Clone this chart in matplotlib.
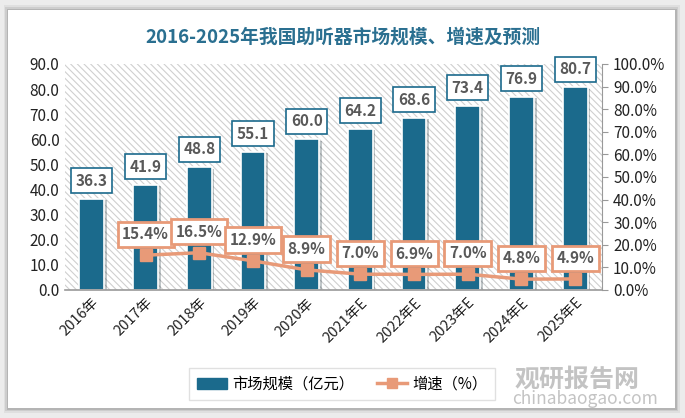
import matplotlib.pyplot as plt
import matplotlib.patheffects as pe
from matplotlib.patches import FancyBboxPatch, Rectangle
import numpy as np

plt.rcParams['font.family'] = ['Noto Sans CJK SC', 'DejaVu Sans']
plt.rcParams['hatch.color'] = '#cfcfcf'
plt.rcParams['hatch.linewidth'] = 0.8

years = ['2016年', '2017年', '2018年', '2019年', '2020年', '2021年E', '2022年E', '2023年E', '2024年E', '2025年E']
market_size = [36.3, 41.9, 48.8, 55.1, 60.0, 64.2, 68.6, 73.4, 76.9, 80.7]
growth = [None, 15.4, 16.5, 12.9, 8.9, 7.0, 6.9, 7.0, 4.8, 4.9]

bar_color = '#1b6a8c'
line_color = '#e89a78'
title_color = '#2a6f90'

fig = plt.figure(figsize=(6.85, 4.18), dpi=100)
fig.patch.set_facecolor('#ececec')

# white card with soft shadow
for i, a in enumerate([0.05, 0.08, 0.12]):
    pad = (3 - i) * 1.5
    fig.patches.append(FancyBboxPatch(((8 - pad) / 685, (10 - pad) / 418),
                                      (667 + 2 * pad) / 685, (398 + 2 * pad) / 418,
                                      boxstyle='square,pad=0', transform=fig.transFigure,
                                      facecolor='#000000', alpha=a, edgecolor='none', zorder=-10))
fig.patches.append(Rectangle((8 / 685, 10 / 418), 667 / 685, 398 / 418,
                             transform=fig.transFigure, facecolor='white',
                             edgecolor='none', zorder=-9))

ax = fig.add_axes([65 / 685, (418 - 290) / 418, (602 - 65) / 685, (290 - 64) / 418])
ax.set_facecolor('none')
ax.add_patch(Rectangle((0, 0), 1, 1, transform=ax.transAxes, facecolor='white',
                       hatch='\\\\\\\\\\', edgecolor='#cfcfcf', linewidth=0, zorder=0))

x = np.arange(len(years))
bars = ax.bar(x, market_size, width=0.46, color=bar_color, edgecolor='white', linewidth=1.2,
              zorder=2, path_effects=[pe.SimplePatchShadow(offset=(2, -1), alpha=0.25), pe.Normal()])
ax.set_ylim(0, 90)
ax.set_xlim(-0.5, len(years) - 0.5)
ax.set_yticks(np.arange(0, 91, 10))
ax.set_yticklabels([f'{v:.1f}' for v in np.arange(0, 91, 10)], fontsize=11, color='#222222')
ax.set_xticks(x)
ax.set_xticklabels(years, rotation=45, ha='right', rotation_mode='anchor', fontsize=10.5, color='#222222')
ax.tick_params(axis='both', length=0, pad=4)
for s in ['top', 'right', 'left']:
    ax.spines[s].set_visible(False)
ax.spines['bottom'].set_color('#999999')
ax.spines['bottom'].set_linewidth(1.2)

for xi, v in zip(x, market_size):
    ax.annotate(f'{v:.1f}', (xi, v), xytext=(0, 13), textcoords='offset points',
                ha='center', va='center', fontsize=11, fontweight='bold', color='#595959',
                bbox=dict(boxstyle='square,pad=0.3', facecolor='white', edgecolor=bar_color, linewidth=1.2),
                zorder=5)

ax2 = ax.twinx()
ax2.set_ylim(0, 100)
ax2.set_yticks(np.arange(0, 101, 10))
ax2.set_yticklabels([f'{v:.1f}%' for v in np.arange(0, 101, 10)], fontsize=11, color='#222222')
ax2.tick_params(axis='y', length=4, color='#999999', pad=4)
for s in ['top', 'left', 'bottom']:
    ax2.spines[s].set_visible(False)
ax2.spines['right'].set_color('#999999')

gx = [xi for xi, g in zip(x, growth) if g is not None]
gy = [g for g in growth if g is not None]
ax2.plot(gx, gy, color=line_color, linewidth=2.5, marker='s', markersize=8, zorder=4)
for xi, g in zip(gx, gy):
    ax2.annotate(f'{g:.1f}%', (xi, g), xytext=(0, 15), textcoords='offset points',
                 ha='center', va='center', fontsize=11, fontweight='bold', color='#595959',
                 bbox=dict(boxstyle='square,pad=0.3', facecolor='white', edgecolor=line_color, linewidth=2),
                 zorder=6)

fig.text(0.5, (418 - 37) / 418, '2016-2025年我国助听器市场规模、增速及预测', ha='center', va='center',
         fontsize=13.5, fontweight='bold', color=title_color)

# legend
h1 = Rectangle((0, 0), 1, 1, color=bar_color)
h2, = ax2.plot([], [], color=line_color, linewidth=2.5, marker='s', markersize=7)
leg = fig.legend([h1, h2], ['市场规模（亿元）', '增速（%）'], loc='center',
                 bbox_to_anchor=(342 / 685, (418 - 384) / 418), ncol=2, frameon=True,
                 fontsize=11, fancybox=False, edgecolor='#d9d9d9', handlelength=2.0,
                 handletextpad=0.3, columnspacing=1.5, borderpad=0.5)

# watermark
fig.text(515 / 685, (418 - 380) / 418, '观研报告网', fontsize=18, fontweight='bold',
         color='#bdbdbd', ha='left', va='center', alpha=0.9)
fig.text(512 / 685, (418 - 399) / 418, 'chinabaogao.com', fontsize=12.5,
         color='#bdbdbd', ha='left', va='center', alpha=0.9)

fig.savefig('out.png', dpi=100, facecolor=fig.get_facecolor())
